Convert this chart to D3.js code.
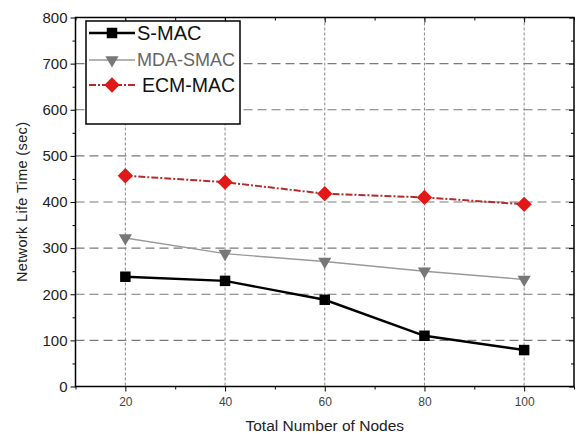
<!DOCTYPE html>
<html>
<head>
<meta charset="utf-8">
<script src="https://cdn.jsdelivr.net/npm/d3@7"></script>
<style>
  body { margin: 0; background: #fff; }
  svg { display: block; font-family: "Liberation Sans", Arial, sans-serif; }
</style>
</head>
<body>
<div id="viz"></div>
<script>
/* Network life time vs number of nodes, drawn with d3 */

var nodes = [20, 40, 60, 80, 100];
var smac = [238, 229, 188, 110, 79];
var mdaSmac = [322, 288, 271, 250, 232];
var ecmMac = [457, 443, 418, 410, 395];
var yTickVals = [0, 100, 200, 300, 400, 500, 600, 700, 800];
var xTickVals = [20, 40, 60, 80, 100];

var width = 578, height = 437,
    margin = { top: 17.5, right: 4, bottom: 50.5, left: 75.5 },
    w = width - margin.left - margin.right,
    h = height - margin.top - margin.bottom;

var svg = d3.select('#viz').append('svg')
    .attr('width', width)
    .attr('height', height);

var g = svg.append('g')
    .attr('transform', 'translate(' + margin.left + ',' + margin.top + ')');

var x = d3.scaleLinear().domain([10, 110]).range([0, w]);
var y = d3.scaleLinear().domain([0, 800]).range([h, 0]);

// grid
g.append('g').selectAll('line')
  .data(yTickVals.filter(function(d) { return d > 0 && d < 800; }))
  .enter().append('line')
    .attr('x1', 0).attr('x2', w)
    .attr('y1', function(d) { return y(d); })
    .attr('y2', function(d) { return y(d); })
    .attr('stroke', '#7a7a7a')
    .attr('stroke-width', 1.2)
    .attr('stroke-dasharray', '9,5');

g.append('g').selectAll('line')
  .data(xTickVals)
  .enter().append('line')
    .attr('y1', 0).attr('y2', h)
    .attr('x1', function(d) { return x(d); })
    .attr('x2', function(d) { return x(d); })
    .attr('stroke', '#888')
    .attr('stroke-width', 1)
    .attr('stroke-dasharray', '3,2');

// axes
var minorX = d3.range(10, 111, 10).filter(function(d) { return xTickVals.indexOf(d) < 0; });
var minorY = d3.range(50, 800, 100);

var xAxis = d3.axisBottom(x).tickValues(xTickVals).tickSize(5).tickPadding(6);
var yAxis = d3.axisLeft(y).tickValues(yTickVals).tickSize(5).tickPadding(3);

var xg = g.append('g')
    .attr('transform', 'translate(0,' + h + ')')
    .call(xAxis);
xg.selectAll('text').attr('font-size', 12).attr('fill', '#444');

g.append('g')
    .attr('transform', 'translate(0,' + h + ')')
    .call(d3.axisBottom(x).tickValues(minorX).tickSize(3).tickFormat(''));

var yg = g.append('g').call(yAxis);
yg.selectAll('text').attr('font-size', 15).attr('fill', '#222');

g.append('g').call(d3.axisLeft(y).tickValues(minorY).tickSize(3).tickFormat(''));

// top and right: inward ticks
g.append('g').call(d3.axisBottom(x).tickValues(xTickVals).tickSize(5).tickFormat(''));
g.append('g').call(d3.axisBottom(x).tickValues(minorX).tickSize(3).tickFormat(''));
g.append('g').attr('transform', 'translate(' + w + ',0)')
  .call(d3.axisLeft(y).tickValues(yTickVals).tickSize(5).tickFormat(''));
g.append('g').attr('transform', 'translate(' + w + ',0)')
  .call(d3.axisLeft(y).tickValues(minorY).tickSize(3).tickFormat(''));

g.selectAll('.domain').remove();
g.selectAll('.tick line').attr('stroke', '#000');

g.append('rect')
  .attr('width', w).attr('height', h)
  .attr('fill', 'none')
  .attr('stroke', '#000')
  .attr('stroke-width', 1.5);

// series
var series = [
  { name: 'S-MAC', values: smac, line: '#000', lw: 2.4, dash: null,
    sym: d3.symbolSquare, size: 110, fill: '#000', fs: 20, tc: '#111' },
  { name: 'MDA-SMAC', values: mdaSmac, line: '#999', lw: 1.4, dash: null,
    sym: d3.symbolTriangle, size: 75, fill: '#777', fs: 18, tc: '#666', rot: 180 },
  { name: 'ECM-MAC', values: ecmMac, line: '#b52a2a', lw: 2, dash: '7,2,2,2',
    sym: d3.symbolDiamond2, size: 150, fill: '#e01818', fs: 19.5, tc: '#111' }
];

var line = d3.line()
    .x(function(d, i) { return x(nodes[i]); })
    .y(function(d) { return y(d); });

series.forEach(function(s) {
  g.append('path')
    .datum(s.values)
    .attr('d', line)
    .attr('fill', 'none')
    .attr('stroke', s.line)
    .attr('stroke-width', s.lw)
    .attr('stroke-dasharray', s.dash);

  g.selectAll(null)
    .data(s.values)
    .enter().append('path')
      .attr('d', d3.symbol().type(s.sym).size(s.size))
      .attr('transform', function(d, i) {
        return 'translate(' + x(nodes[i]) + ',' + y(d) + ')' + (s.rot ? ' rotate(' + s.rot + ')' : '');
      })
      .attr('fill', s.fill);
});

// legend
var legend = svg.append('g').attr('transform', 'translate(86,21)');
legend.append('rect')
  .attr('width', 154).attr('height', 103)
  .attr('fill', '#fff')
  .attr('stroke', '#000')
  .attr('stroke-width', 1.5);

var ly = [12, 39, 64];
series.forEach(function(s, i) {
  var row = legend.append('g').attr('transform', 'translate(0,' + ly[i] + ')');
  row.append('line')
    .attr('x1', 3).attr('x2', 49)
    .attr('stroke', s.line)
    .attr('stroke-width', s.lw)
    .attr('stroke-dasharray', s.dash);
  row.append('path')
    .attr('d', d3.symbol().type(s.sym).size(s.size))
    .attr('transform', 'translate(26,0)' + (s.rot ? ' rotate(' + s.rot + ')' : ''))
    .attr('fill', s.fill);
  row.append('text')
    .attr('x', i === 2 ? 56 : 51)
    .attr('dy', '0.35em')
    .attr('font-size', s.fs)
    .attr('fill', s.tc)
    .text(s.name);
});

// axis titles
svg.append('text')
  .attr('x', margin.left + x(60))
  .attr('y', 431)
  .attr('text-anchor', 'middle')
  .attr('font-size', 15.5)
  .attr('fill', '#222')
  .text('Total Number of Nodes');

svg.append('text')
  .attr('transform', 'translate(27,' + (margin.top + h / 2) + ') rotate(-90)')
  .attr('text-anchor', 'middle')
  .attr('font-size', 14.5)
  .attr('textLength', 160)
  .attr('lengthAdjust', 'spacing')
  .attr('fill', '#222')
  .text('Network Life Time (sec)');
</script>
</body>
</html>
